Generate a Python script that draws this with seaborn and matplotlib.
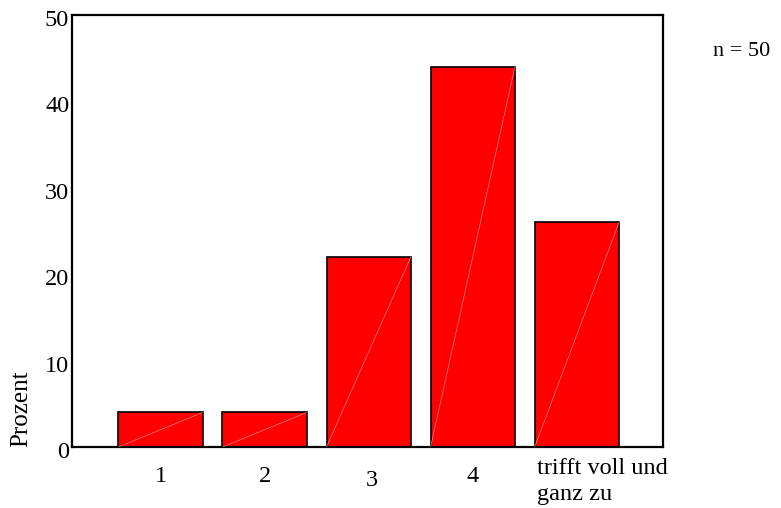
import matplotlib
matplotlib.use("Agg")
import matplotlib.pyplot as plt
import matplotlib.transforms as mtransforms
import seaborn as sns
import pandas as pd

# answer categories and percentages (n = 50)
categories = ["1", "2", "3", "4", "trifft voll und\nganz zu"]
percent = [4, 4, 22, 44, 26]
y_ticks = [0, 10, 20, 30, 40, 50]

sns.set_style("white")
plt.rcParams["font.family"] = ["Liberation Serif", "DejaVu Serif"]
plt.rcParams["text.color"] = "black"
plt.rcParams["xtick.color"] = "black"
plt.rcParams["ytick.color"] = "black"
plt.rcParams["axes.labelcolor"] = "black"

df = pd.DataFrame({"Antwort": categories, "Prozent": percent})

fig = plt.figure(figsize=(7.81, 5.08), dpi=100)
ax = fig.add_axes([0.0922, 0.120, 0.757, 0.8505])

sns.barplot(data=df, x="Antwort", y="Prozent", order=categories,
            color="#ff0000", saturation=1, edgecolor="black",
            linewidth=1.2, width=0.81, ax=ax)

# faint diagonal inside each bar (as in the original export)
for p in ax.patches:
    x0, w, h = p.get_x(), p.get_width(), p.get_height()
    ax.plot([x0, x0 + w], [0, h], color="#ffa0a0", lw=0.4, zorder=3)

ax.set_xlim(-0.85, 4.83)
ax.set_ylim(0, 50)
ax.set_yticks(y_ticks)
ax.set_yticklabels([str(t) for t in y_ticks], fontsize=17.5)
ax.tick_params(axis="y", length=2, width=2, pad=0, colors="black")
ax.tick_params(axis="x", length=2, width=2, pad=12, colors="black", labelsize=17.5)

for lab in ax.get_yticklabels():
    lab.set_transform(lab.get_transform() +
                      mtransforms.ScaledTranslation(0, -0.03, fig.dpi_scale_trans))

for s in ax.spines.values():
    s.set_visible(True)
    s.set_color("black")
    s.set_linewidth(1.6)

ax.set_xlabel("")
ax.set_ylabel("Prozent", fontsize=18, loc="bottom", labelpad=9, color="black")

labels = ax.get_xticklabels()
last = labels[-1]
last.set_ha("left")
last.set_linespacing(1.3)
last.set_transform(last.get_transform() +
                   mtransforms.ScaledTranslation(-0.40, 0.08, fig.dpi_scale_trans))
labels[2].set_transform(labels[2].get_transform() +
                        mtransforms.ScaledTranslation(0.03, -0.04, fig.dpi_scale_trans))

fig.text(0.913, 0.898, "n = 50", fontsize=16, ha="left", va="center", color="black")

fig.savefig("out.png", dpi=100)
